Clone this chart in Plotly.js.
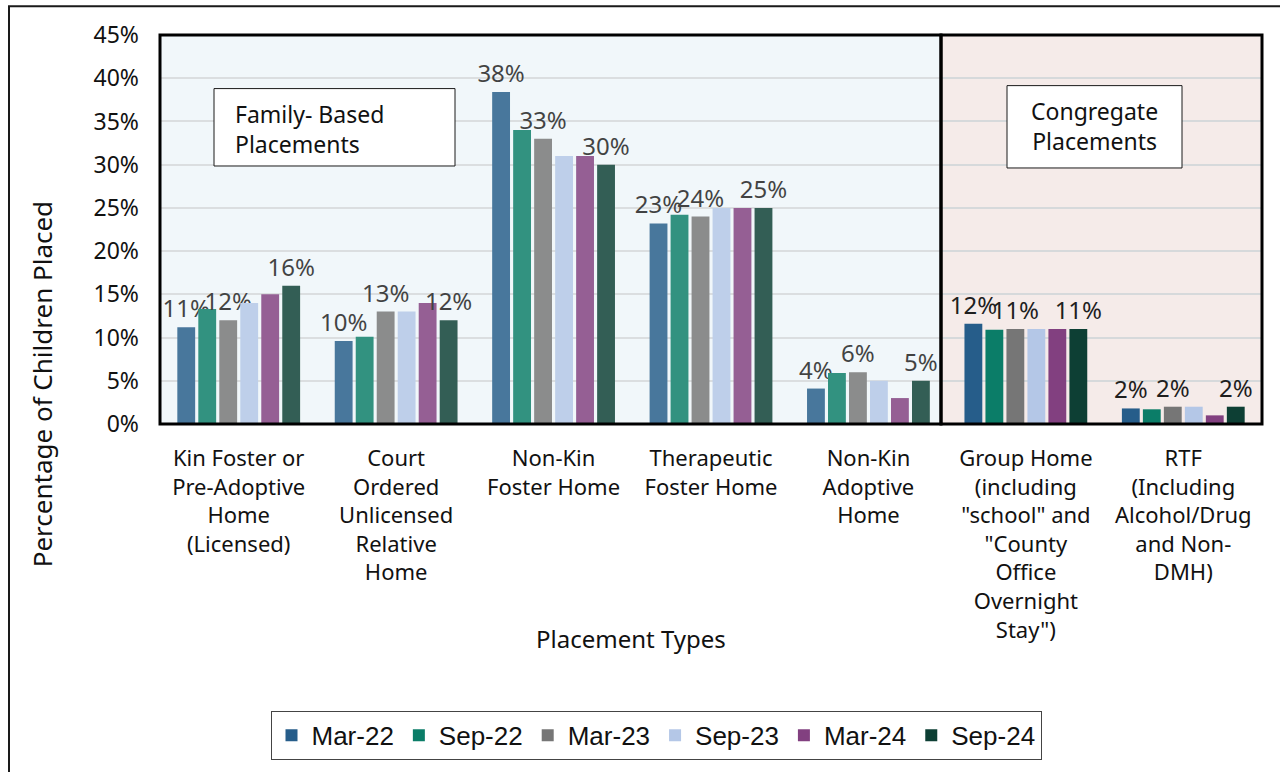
<!DOCTYPE html>
<html>
<head>
<meta charset="utf-8">
<script src="https://cdn.plot.ly/plotly-3.0.1.min.js"></script>
<style>
html,body{margin:0;padding:0;background:#fff;}
#chart{width:1280px;height:772px;}
</style>
</head>
<body>
<div id="chart"></div>
<script>
// ---- data ----
const categories = [
  "Kin Foster or<br>Pre-Adoptive<br>Home<br>(Licensed)",
  "Court<br>Ordered<br>Unlicensed<br>Relative<br>Home",
  "Non-Kin<br>Foster Home",
  "Therapeutic<br>Foster Home",
  "Non-Kin<br>Adoptive<br>Home",
  "Group Home<br>(including<br>\"school\" and<br>\"County<br>Office<br>Overnight<br>Stay\")",
  "RTF<br>(Including<br>Alcohol/Drug<br>and Non-<br>DMH)"
];
const seriesNames = ["Mar-22", "Sep-22", "Mar-23", "Sep-23", "Mar-24", "Sep-24"];
const mar22 = [11.2, 9.6, 38.4, 23.2, 4.1, 11.6, 1.8];
const sep22 = [13.3, 10.1, 34.0, 24.2, 5.9, 10.9, 1.7];
const mar23 = [12.0, 13.0, 33.0, 24.0, 6.0, 11.0, 2.0];
const sep23 = [14.0, 13.0, 31.0, 25.0, 5.0, 11.0, 2.0];
const mar24 = [15.0, 14.0, 31.0, 25.0, 3.0, 11.0, 1.0];
const sep24 = [16.0, 12.0, 30.0, 25.0, 5.0, 11.0, 2.0];
const labelledSeries = ["Mar-22", "Mar-23", "Sep-24"];
const yTickVals = [0, 5, 10, 15, 20, 25, 30, 35, 40, 45];
const yTickText = ["0%", "5%", "10%", "15%", "20%", "25%", "30%", "35%", "40%", "45%"];

// ---- styles ----
const colors = ["#265d8a", "#0b7d68", "#767676", "#b4c7e7", "#824080", "#0d3f34"];
const FONT = "Noto Sans, Open Sans, sans-serif";
const values = [mar22, sep22, mar23, sep23, mar24, sep24];

// plot area in pixels
const L = 160, R = 18, T = 35, B = 345, W = 1280, H = 772;
const PW = W - L - R, PH = H - T - B;
const px = x => (x - L) / PW;
const py = y => (H - B - y) / PH;

const traces = seriesNames.map((name, i) => {
  const t = {
    type: "bar",
    name: name,
    x: categories,
    y: values[i],
    marker: {color: colors[i]},
    hoverinfo: "skip",
    cliponaxis: false
  };
  if (labelledSeries.includes(name)) {
    t.texttemplate = "%{y:.0f}%";
    t.textposition = "outside";
    t.textangle = 0;
    t.constraintext = "none";
    t.textfont = {family: FONT, size: 24, color: "#1e1e1e"};
  } else {
    t.textposition = "none";
  }
  return t;
});

const split = 4.46;
const shapes = [
  // outer frame
  {type: "rect", xref: "paper", yref: "paper", x0: px(9), x1: px(1300), y0: py(800), y1: py(6),
   line: {color: "#1a1a1a", width: 2}, fillcolor: "rgba(0,0,0,0)", layer: "below"},
  // family background
  {type: "rect", xref: "x", yref: "y", x0: -0.5, x1: split, y0: 0, y1: 45,
   fillcolor: "#f1f7fa", line: {width: 0}, layer: "below"},
  // congregate background
  {type: "rect", xref: "x", yref: "y", x0: split, x1: 6.5, y0: 0, y1: 45,
   fillcolor: "#f5ebe9", line: {width: 0}, layer: "below"},
  // family overlay (lightens bars and labels)
  {type: "rect", xref: "x", yref: "y", x0: -0.5, x1: split, y0: 0, y1: 45,
   fillcolor: "rgba(242,247,250,0.17)", line: {width: 0}, layer: "above"},
  // borders (paper refs so they are not clipped)
  {type: "rect", xref: "paper", yref: "paper", x0: 0, x1: px(941), y0: 0, y1: 1,
   fillcolor: "rgba(0,0,0,0)", line: {color: "#000", width: 3}, layer: "above"},
  {type: "rect", xref: "paper", yref: "paper", x0: px(941), x1: 1, y0: 0, y1: 1,
   fillcolor: "rgba(0,0,0,0)", line: {color: "#000", width: 3}, layer: "above"},
  // label boxes
  {type: "rect", xref: "paper", yref: "paper", x0: px(214), x1: px(455), y0: py(167), y1: py(89),
   fillcolor: "#ffffff", line: {color: "#1a1a1a", width: 1}, layer: "above"},
  {type: "rect", xref: "paper", yref: "paper", x0: px(1007), x1: px(1182), y0: py(169), y1: py(86),
   fillcolor: "#ffffff", line: {color: "#1a1a1a", width: 1}, layer: "above"}
];

const annotations = [
  {xref: "paper", yref: "paper", x: px(233), y: py(130), xanchor: "left", yanchor: "middle",
   text: "Family- Based<br>Placements", align: "left", showarrow: false,
   font: {family: FONT, size: 23, color: "#111"}},
  {xref: "paper", yref: "paper", x: px(1094), y: py(127), xanchor: "center", yanchor: "middle",
   text: "Congregate<br>Placements", align: "center", showarrow: false,
   font: {family: FONT, size: 23, color: "#111"}},
  {xref: "paper", yref: "paper", x: px(42), y: py(387), xanchor: "center", yanchor: "middle",
   text: "Percentage of Children Placed", textangle: -90, showarrow: false,
   font: {family: FONT, size: 26, color: "#111"}},
  {xref: "paper", yref: "paper", x: px(631), y: py(643), xanchor: "center", yanchor: "middle",
   text: "Placement Types", showarrow: false,
   font: {family: FONT, size: 24, color: "#111"}}
];

const layout = {
  width: W, height: H,
  margin: {l: L, r: R, t: T, b: B},
  paper_bgcolor: "#ffffff",
  plot_bgcolor: "rgba(0,0,0,0)",
  barmode: "group",
  bargap: 0.2,
  bargroupgap: 0.15,
  font: {family: FONT, size: 21, color: "#111"},
  xaxis: {
    type: "category",
    range: [-0.5, 6.5],
    showgrid: false, zeroline: false, showline: false, ticks: "",
    tickfont: {family: FONT, size: 22, color: "#111"},
    ticklabelstandoff: 19
  },
  yaxis: {
    range: [0, 45],
    tickmode: "array",
    tickvals: yTickVals,
    ticktext: yTickText,
    showgrid: true, gridcolor: "#d6d9db", gridwidth: 2,
    zeroline: false, showline: false, ticks: "",
    tickfont: {family: FONT, size: 23, color: "#111"},
    ticklabelstandoff: 20
  },
  showlegend: true,
  legend: {
    orientation: "h",
    xref: "paper", yref: "paper",
    x: px(656), y: py(716), xanchor: "center", yanchor: "top",
    bgcolor: "#ffffff", bordercolor: "#444", borderwidth: 1,
    font: {family: "Liberation Sans Narrow, Liberation Sans, sans-serif", size: 26, color: "#111"},
    itemwidth: 30,
    traceorder: "normal"
  },
  shapes: shapes,
  annotations: annotations
};

Plotly.newPlot("chart", traces, layout, {displayModeBar: false, staticPlot: true});
</script>
</body>
</html>
